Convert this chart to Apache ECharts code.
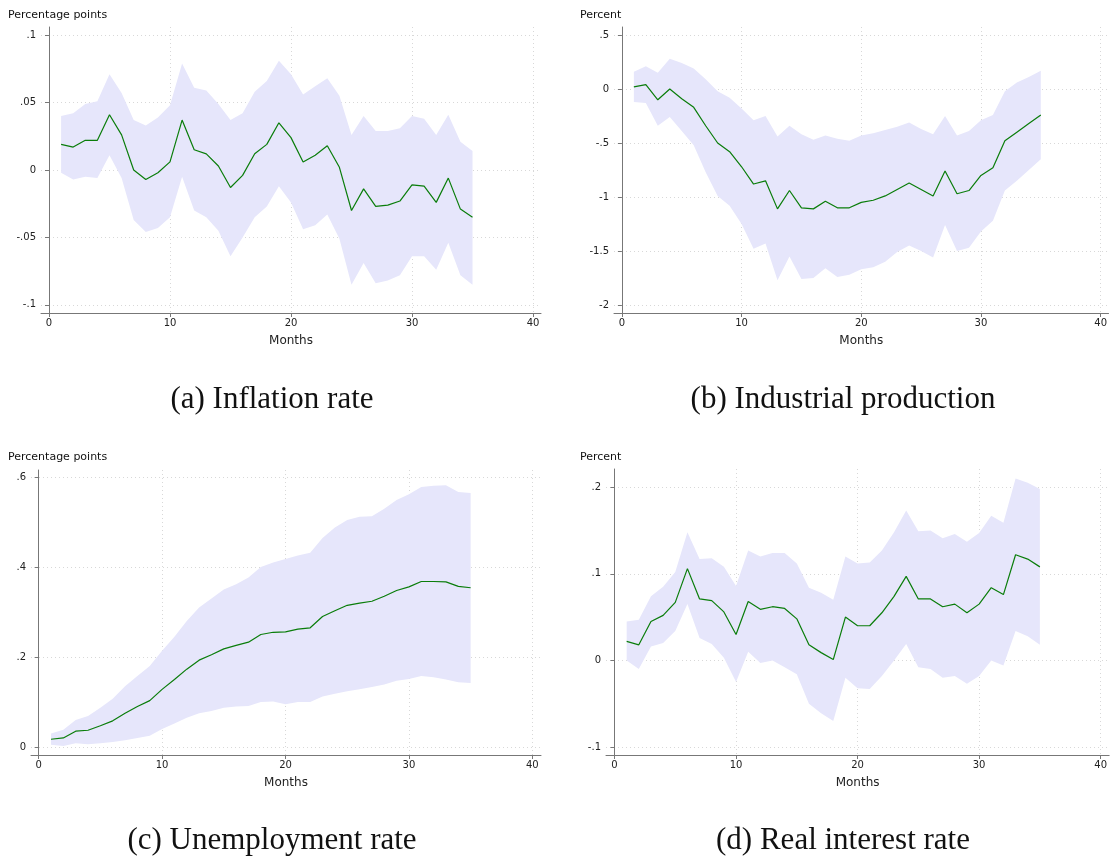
<!DOCTYPE html>
<html>
<head>
<meta charset="utf-8">
<script src="https://cdn.jsdelivr.net/npm/echarts@6/dist/echarts.min.js"></script>
<style>html,body{margin:0;padding:0;background:#fff;} #main{width:1110px;height:856px;}</style>
</head>
<body>
<div id="main"></div>
<script>
var months = [];
for (var m = 1; m <= 35; m++) months.push(m);

// (a) Inflation rate
var inflMid = [.019,.017,.022,.022,.041,.026,0,-.007,-.002,.006,.037,.015,.012,.003,-.013,-.004,.012,.019,.035,.024,.006,.011,.018,.002,-.030,-.014,-.027,-.026,-.023,-.011,-.012,-.024,-.006,-.029,-.035];
var inflUp = [.040,.042,.049,.051,.071,.057,.037,.033,.039,.048,.079,.061,.059,.049,.037,.042,.058,.066,.081,.071,.056,.062,.068,.055,.026,.040,.029,.029,.031,.040,.038,.026,.041,.021,.014];
var inflLo = [-.002,-.007,-.005,-.006,.011,-.006,-.037,-.046,-.043,-.035,-.005,-.030,-.035,-.045,-.064,-.050,-.035,-.027,-.012,-.024,-.044,-.041,-.033,-.051,-.085,-.069,-.084,-.082,-.078,-.064,-.064,-.074,-.054,-.078,-.085];
// (b) Industrial production
var ipMid = [.02,.04,-.10,0,-.09,-.17,-.34,-.50,-.58,-.72,-.88,-.85,-1.11,-.94,-1.10,-1.11,-1.04,-1.10,-1.10,-1.05,-1.03,-.99,-.93,-.87,-.93,-.99,-.76,-.97,-.94,-.80,-.73,-.48,-.40,-.32,-.24];
var ipUp = [.16,.21,.15,.28,.24,.19,.09,-.02,-.08,-.18,-.29,-.25,-.44,-.34,-.42,-.47,-.43,-.46,-.48,-.43,-.41,-.38,-.35,-.31,-.37,-.42,-.25,-.43,-.39,-.29,-.24,-.02,.06,.11,.17];
var ipLo = [-.12,-.13,-.34,-.26,-.39,-.52,-.77,-.99,-1.08,-1.25,-1.48,-1.43,-1.77,-1.55,-1.76,-1.75,-1.66,-1.74,-1.72,-1.67,-1.65,-1.60,-1.51,-1.45,-1.50,-1.56,-1.26,-1.50,-1.47,-1.32,-1.22,-.94,-.85,-.75,-.65];
// (c) Unemployment rate
var unMid = [.017,.020,.035,.037,.047,.058,.075,.090,.103,.128,.150,.173,.193,.205,.218,.226,.233,.250,.255,.256,.262,.265,.290,.303,.315,.320,.324,.335,.348,.356,.368,.368,.367,.357,.354];
var unUp = [.030,.038,.060,.069,.087,.107,.135,.158,.180,.214,.245,.280,.310,.330,.350,.362,.377,.400,.410,.418,.426,.432,.465,.488,.505,.512,.513,.530,.549,.562,.578,.581,.582,.567,.565];
var unLo = [.005,.002,.008,.006,.008,.011,.015,.020,.025,.040,.052,.065,.075,.080,.087,.090,.091,.100,.101,.095,.100,.100,.112,.118,.124,.128,.133,.139,.147,.151,.158,.155,.150,.144,.142];
// (d) Real interest rate
var riMid = [.022,.018,.045,.052,.067,.106,.071,.069,.056,.030,.068,.059,.062,.060,.048,.018,.009,.001,.050,.040,.040,.055,.074,.097,.071,.071,.062,.065,.055,.065,.084,.076,.122,.117,.108];
var riUp = [.045,.047,.074,.085,.102,.148,.117,.118,.108,.086,.127,.120,.124,.124,.112,.084,.078,.070,.120,.112,.113,.127,.148,.173,.149,.150,.141,.146,.137,.147,.167,.159,.210,.205,.198];
var riLo = [0,-.010,.016,.020,.034,.065,.026,.019,.003,-.025,.010,-.003,0,-.008,-.016,-.050,-.061,-.070,-.020,-.032,-.033,-.018,0,.019,-.008,-.010,-.020,-.018,-.027,-.018,0,-.006,.034,.028,.018];

var xTicks = [0, 10, 20, 30, 40];
var yTicksA = [-.1, -.05, 0, .05, .1];
var yTicksB = [-2, -1.5, -1, -.5, 0, .5];
var yTicksC = [0, .2, .4, .6];
var yTicksD = [-.1, 0, .1, .2];

var panels = [
  {mid: inflMid, up: inflUp, lo: inflLo, ticks: yTicksA, ymin: -.106, ymax: .106, xmin: -.66, xmax: 40.66,
   grid: {left: 41, top: 27, width: 500, height: 286}, unit: 'Percentage points', ux: 8, uy: 10,
   cap: '(a) Inflation rate', cx: 272, cy: 400},
  {mid: ipMid, up: ipUp, lo: ipLo, ticks: yTicksB, ymin: -2.074, ymax: .574, xmin: -.66, xmax: 40.66,
   grid: {left: 614, top: 27, width: 498, height: 286}, unit: 'Percent', ux: 580, uy: 10,
   cap: '(b) Industrial production', cx: 843, cy: 400},
  {mid: unMid, up: unUp, lo: unLo, ticks: yTicksC, ymin: -.018, ymax: .616, xmin: -.62, xmax: 40.7,
   grid: {left: 31, top: 470, width: 510, height: 285}, unit: 'Percentage points', ux: 8, uy: 452,
   cap: '(c) Unemployment rate', cx: 272, cy: 841},
  {mid: riMid, up: riUp, lo: riLo, ticks: yTicksD, ymin: -.1092, ymax: .221, xmin: -.7, xmax: 40.7,
   grid: {left: 606, top: 469, width: 506, height: 286}, unit: 'Percent', ux: 580, uy: 452,
   cap: '(d) Real interest rate', cx: 843, cy: 841}
];

function fmt(v) {
  var s = String(Math.round(v * 1000) / 1000);
  return s.replace(/^0\./, '.').replace(/^-0\./, '-.');
}

// confidence band as one polygon: upper bound forward, lower bound back
function bandItem(params, api) {
  if (params.dataIndex !== 0) return;
  var d = params.context.rows;
  var pts = [];
  for (var k = 0; k < d.length; k++) pts.push(api.coord([d[k][0], d[k][2]]));
  for (var k = d.length - 1; k >= 0; k--) pts.push(api.coord([d[k][0], d[k][1]]));
  return {type: 'polygon', shape: {points: pts}, style: {fill: '#e6e6fb', stroke: 'none'}};
}

var grids = [], xAxes = [], yAxes = [], series = [], graphics = [];
panels.forEach(function (p, i) {
  grids.push(p.grid);
  xAxes.push({
    type: 'value', gridIndex: i, min: p.xmin, max: p.xmax,
    name: 'Months', nameLocation: 'middle', nameGap: 22,
    nameTextStyle: {fontFamily: 'DejaVu Sans', fontSize: 12, color: '#222'},
    axisLine: {onZero: false, lineStyle: {color: '#777'}},
    axisTick: {customValues: xTicks, length: 4, lineStyle: {color: '#777'}},
    axisLabel: {customValues: xTicks, fontFamily: 'DejaVu Sans', fontSize: 10, color: '#222', margin: 5},
    splitLine: {show: true, lineStyle: {color: '#d8d8d8', type: [1, 3]}}
  });
  yAxes.push({
    type: 'value', gridIndex: i, min: p.ymin, max: p.ymax,
    axisLine: {show: true, lineStyle: {color: '#777'}},
    axisTick: {show: true, customValues: p.ticks, length: 4, lineStyle: {color: '#777'}},
    axisLabel: {customValues: p.ticks, formatter: fmt, fontFamily: 'DejaVu Sans', fontSize: 10, color: '#222', margin: 5},
    splitLine: {show: true, lineStyle: {color: '#d8d8d8', type: [1, 3]}}
  });
  var rows = [], mid = [];
  months.forEach(function (m, k) {
    rows.push([m, p.lo[k], p.up[k]]);
    mid.push([m, p.mid[k]]);
  });
  series.push({type: 'custom', xAxisIndex: i, yAxisIndex: i, data: rows, silent: true, z: 1,
    encode: {x: 0, y: [1, 2]},
    renderItem: function (params, api) { params.context.rows = rows; return bandItem(params, api); }});
  series.push({type: 'line', xAxisIndex: i, yAxisIndex: i, data: mid, symbol: 'none',
    lineStyle: {color: '#0a7d0a', width: 1.2}, z: 5});
  graphics.push({type: 'text', left: p.ux, top: p.uy,
    style: {text: p.unit, fontFamily: 'DejaVu Sans', fontSize: 11, fill: '#111'}});
  graphics.push({type: 'text', x: p.cx, y: p.cy,
    style: {text: p.cap, fontFamily: 'Liberation Serif', fontSize: 31, fill: '#111', align: 'center', verticalAlign: 'middle'}});
});

var chart = echarts.init(document.getElementById('main'));
chart.setOption({
  animation: false,
  grid: grids,
  xAxis: xAxes,
  yAxis: yAxes,
  series: series,
  graphic: graphics
});
</script>
</body>
</html>
